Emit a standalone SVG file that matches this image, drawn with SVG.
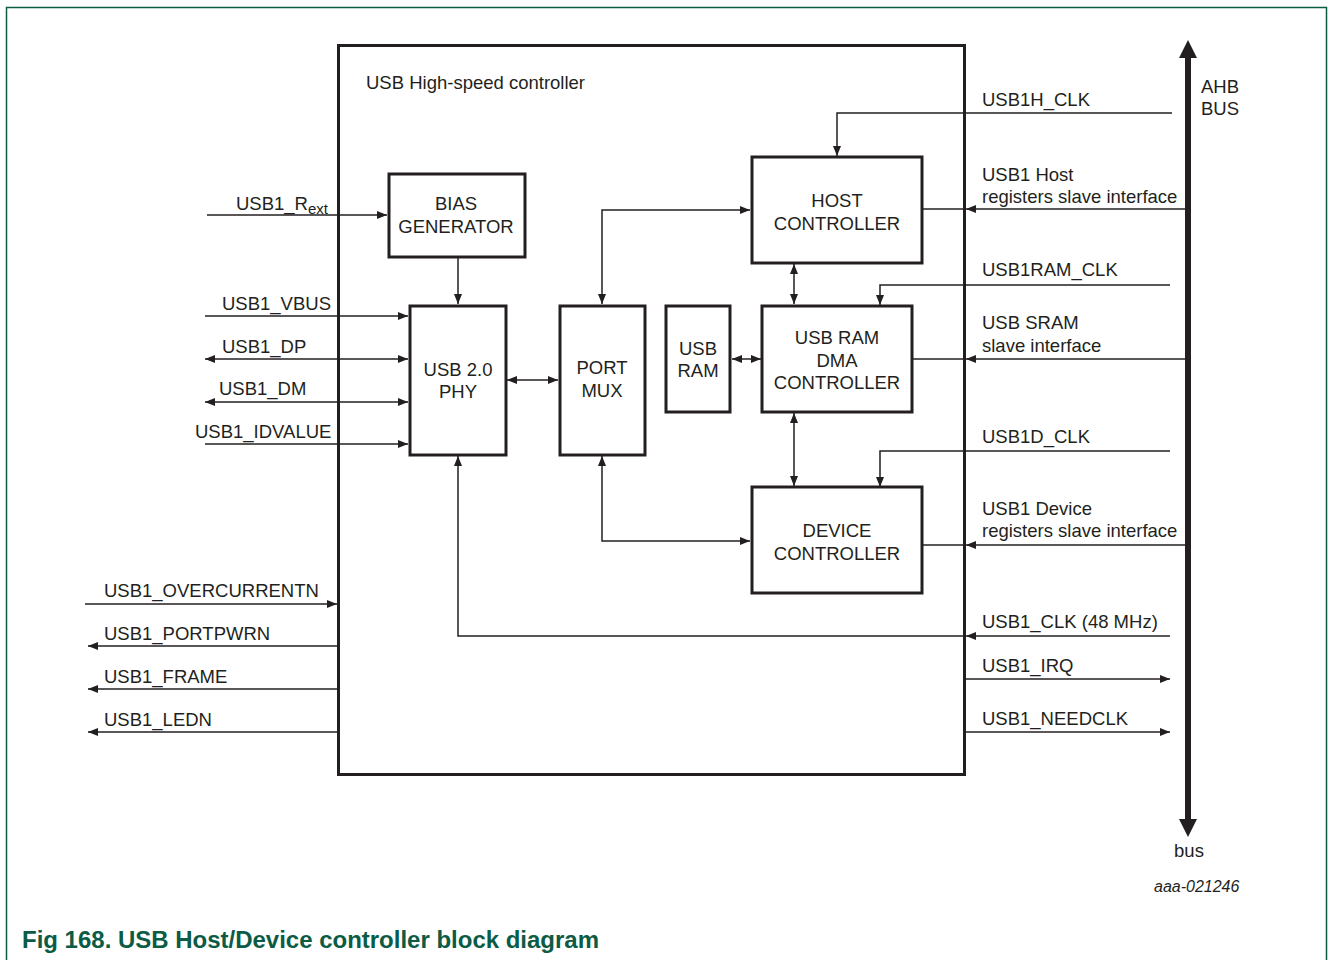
<svg xmlns="http://www.w3.org/2000/svg" width="1328" height="960" viewBox="0 0 1328 960">
<style>
text{font-family:"Liberation Sans",Arial,sans-serif;font-size:18.5px;fill:#231f20}
.c{text-anchor:middle}
.box{fill:#fff;stroke:#231f20;stroke-width:3}
.ln{fill:none;stroke:#231f20;stroke-width:1.5}
.a{marker-end:url(#ah)}
.d{marker-start:url(#ah);marker-end:url(#ah)}
</style>
<defs>
<marker id="ah" viewBox="0 0 10 8" refX="10" refY="4" markerWidth="10" markerHeight="8" markerUnits="userSpaceOnUse" orient="auto-start-reverse">
<path d="M0,0 L10,4 L0,8 z" fill="#231f20"/>
</marker>
</defs>
<rect x="0" y="0" width="1328" height="960" fill="#fff"/>
<rect x="6.5" y="7.5" width="1320" height="1000" fill="none" stroke="#0b5b45" stroke-width="1.5"/>

<g id="main">
<rect x="338.5" y="45.5" width="626" height="729" fill="none" stroke="#231f20" stroke-width="3"/>
<text x="366" y="89">USB High-speed controller</text>
</g>

<g id="connectors">
<polyline class="ln a" points="1172,113 837,113 837,156"/>
<line class="ln a" x1="1188" y1="209" x2="966" y2="209"/>
<line class="ln" x1="922" y1="209" x2="966" y2="209"/>
<polyline class="ln a" points="1170,285 880,285 880,305"/>
<line class="ln a" x1="1188" y1="359" x2="966" y2="359"/>
<line class="ln" x1="912" y1="359" x2="966" y2="359"/>
<polyline class="ln a" points="1170,451 880,451 880,487"/>
<line class="ln a" x1="1188" y1="545" x2="966" y2="545"/>
<line class="ln" x1="922" y1="545" x2="966" y2="545"/>
<line class="ln a" x1="1170" y1="636" x2="966" y2="636"/>
<polyline class="ln a" points="966,636 458,636 458,456"/>
<line class="ln a" x1="965" y1="679" x2="1170" y2="679"/>
<line class="ln a" x1="965" y1="732" x2="1170" y2="732"/>
<line class="ln a" x1="458" y1="257" x2="458" y2="304"/>
<line class="ln d" x1="507" y1="380" x2="558" y2="380"/>
<polyline class="ln d" points="602,304 602,210 750,210"/>
<polyline class="ln d" points="602,456 602,541 750,541"/>
<line class="ln d" x1="732" y1="359" x2="761" y2="359"/>
<line class="ln d" x1="794" y1="264" x2="794" y2="304"/>
<line class="ln d" x1="794" y1="413" x2="794" y2="486"/>
<line class="ln a" x1="207" y1="215" x2="387" y2="215"/>
<line class="ln a" x1="205" y1="316" x2="408" y2="316"/>
<line class="ln d" x1="205" y1="359" x2="408" y2="359"/>
<line class="ln d" x1="205" y1="402" x2="408" y2="402"/>
<line class="ln a" x1="205" y1="444" x2="408" y2="444"/>
<line class="ln a" x1="85" y1="604" x2="337" y2="604"/>
<line class="ln a" x1="338" y1="646" x2="88" y2="646"/>
<line class="ln a" x1="338" y1="689" x2="88" y2="689"/>
<line class="ln a" x1="338" y1="732" x2="88" y2="732"/>
<line x1="1188" y1="56" x2="1188" y2="821" stroke="#231f20" stroke-width="6"/>
<polygon points="1188,40 1197,58 1179,58" fill="#231f20"/>
<polygon points="1188,837 1197,819 1179,819" fill="#231f20"/>
</g>

<g id="bias">
<rect class="box" x="389" y="174" width="136" height="83"/>
<text class="c" x="456" y="210">BIAS</text>
<text class="c" x="456" y="233">GENERATOR</text>
</g>
<g id="phy">
<rect class="box" x="410" y="306" width="96" height="149"/>
<text class="c" x="458" y="376">USB 2.0</text>
<text class="c" x="458" y="398">PHY</text>
</g>
<g id="portmux">
<rect class="box" x="560" y="306" width="85" height="149"/>
<text class="c" x="602" y="374">PORT</text>
<text class="c" x="602" y="397">MUX</text>
</g>
<g id="usbram">
<rect class="box" x="666" y="306" width="64" height="106"/>
<text class="c" x="698" y="355">USB</text>
<text class="c" x="698" y="377">RAM</text>
</g>
<g id="dma">
<rect class="box" x="762" y="306" width="150" height="106"/>
<text class="c" x="837" y="344">USB RAM</text>
<text class="c" x="837" y="367">DMA</text>
<text class="c" x="837" y="389">CONTROLLER</text>
</g>
<g id="host">
<rect class="box" x="752" y="157" width="170" height="106"/>
<text class="c" x="837" y="207">HOST</text>
<text class="c" x="837" y="230">CONTROLLER</text>
</g>
<g id="device">
<rect class="box" x="752" y="487" width="170" height="106"/>
<text class="c" x="837" y="537">DEVICE</text>
<text class="c" x="837" y="560">CONTROLLER</text>
</g>

<g id="labels">
<text x="236" y="210">USB1_R<tspan font-size="15" dy="4">ext</tspan></text>
<text x="222" y="310">USB1_VBUS</text>
<text x="222" y="353">USB1_DP</text>
<text x="219" y="395">USB1_DM</text>
<text x="195" y="438">USB1_IDVALUE</text>
<text x="104" y="597">USB1_OVERCURRENTN</text>
<text x="104" y="640">USB1_PORTPWRN</text>
<text x="104" y="683">USB1_FRAME</text>
<text x="104" y="726">USB1_LEDN</text>
<text x="982" y="106">USB1H_CLK</text>
<text x="982" y="181">USB1 Host</text>
<text x="982" y="203">registers slave interface</text>
<text x="982" y="276">USB1RAM_CLK</text>
<text x="982" y="329">USB SRAM</text>
<text x="982" y="352">slave interface</text>
<text x="982" y="443">USB1D_CLK</text>
<text x="982" y="515">USB1 Device</text>
<text x="982" y="537">registers slave interface</text>
<text x="982" y="628">USB1_CLK (48 MHz)</text>
<text x="982" y="672">USB1_IRQ</text>
<text x="982" y="725">USB1_NEEDCLK</text>
<text x="1201" y="93">AHB</text>
<text x="1201" y="115">BUS</text>
<text class="c" x="1189" y="857">bus</text>
<text x="1154" y="892" style="font-size:16px;font-style:italic">aaa-021246</text>
<text x="22" y="948" textLength="577" lengthAdjust="spacingAndGlyphs" style="font-size:23px;font-weight:bold;fill:#0b5b45">Fig 168. USB Host/Device controller block diagram</text>
</g>
</svg>
